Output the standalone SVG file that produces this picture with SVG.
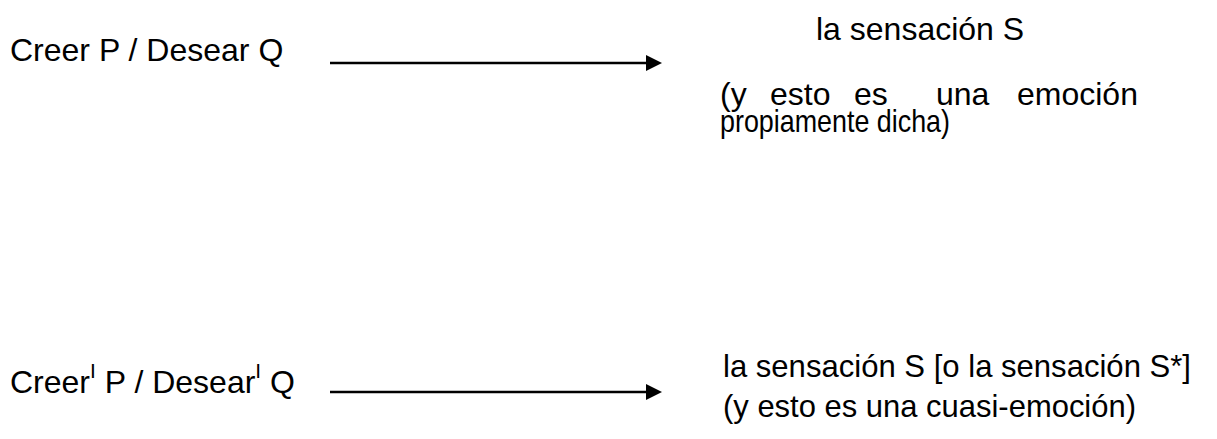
<svg xmlns="http://www.w3.org/2000/svg" width="1217" height="439" viewBox="0 0 1217 439">
<style>
text{font-family:"Liberation Sans",Arial,sans-serif;font-size:32px;fill:#000}
.sup{font-size:21px}
.conn{stroke:#000;stroke-width:2.5;fill:none}
</style>
<defs>
<marker id="ah" markerUnits="userSpaceOnUse" markerWidth="16" markerHeight="16" refX="0" refY="8" orient="auto">
<path d="M0,0 L16,8 L0,16 z" fill="#000"/>
</marker>
</defs>
<rect width="1217" height="439" fill="#fff"/>
<g id="connectors">
<line class="conn" x1="330" y1="63" x2="646" y2="63" marker-end="url(#ah)"/>
<line class="conn" x1="330" y1="392" x2="646" y2="392" marker-end="url(#ah)"/>
</g>
<g id="n-creer1"><text x="10" y="61">Creer P / Desear Q</text></g>
<g id="n-sens1">
<text x="816" y="40">la sensación S</text>
<text x="720" y="105">(y</text>
<text x="770" y="105">esto</text>
<text x="854" y="105">es</text>
<text x="936" y="105">una</text>
<text x="1017" y="105">emoción</text>
<text x="720" y="132" textLength="230" lengthAdjust="spacingAndGlyphs">propiamente dicha)</text>
</g>
<g id="n-creer2"><text x="10" y="393">Creer<tspan class="sup" dy="-15">I</tspan><tspan dy="15"> P / Desear</tspan><tspan class="sup" dy="-15">I</tspan><tspan dy="15"> Q</tspan></text></g>
<g id="n-sens2">
<text x="723" y="377" textLength="468" lengthAdjust="spacingAndGlyphs">la sensación S [o la sensación S*]</text>
<text x="723" y="417" textLength="413" lengthAdjust="spacingAndGlyphs">(y esto es una cuasi-emoción)</text>
</g>
</svg>
